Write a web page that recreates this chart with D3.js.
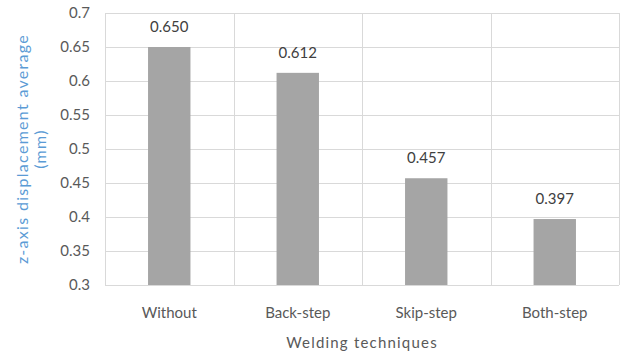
<!DOCTYPE html>
<html>
<head>
<meta charset="utf-8">
<script src="https://cdn.jsdelivr.net/npm/d3@7/dist/d3.min.js"></script>
<style>
  html, body { margin: 0; padding: 0; background: #fff; }
  svg { display: block; font-family: "Lato", "Open Sans", sans-serif; }
</style>
</head>
<body>
<svg id="chart" width="622" height="358"></svg>
<script>
const categories = ["Without", "Back-step", "Skip-step", "Both-step"];
const values = [0.650, 0.612, 0.457, 0.397];
const yTicks = [0.3, 0.35, 0.4, 0.45, 0.5, 0.55, 0.6, 0.65, 0.7];
const yTickLabels = ["0.3", "0.35", "0.4", "0.45", "0.5", "0.55", "0.6", "0.65", "0.7"];
const xTitle = "Welding techniques";
const yTitle = ["z-axis displacement average", "(mm)"];

const svg = d3.select("#chart");
const plot = { left: 105, right: 619, top: 13, bottom: 285 };

const x = d3.scaleBand().domain(categories).range([plot.left, plot.right]).padding(0);
const y = d3.scaleLinear().domain([0.3, 0.7]).range([plot.bottom, plot.top]);

const gridColor = "#d9d9d9";

// horizontal gridlines
svg.append("g").selectAll("line").data(yTicks).join("line")
  .attr("x1", plot.left).attr("x2", plot.right)
  .attr("y1", d => Math.round(y(d)) + 0.5).attr("y2", d => Math.round(y(d)) + 0.5)
  .attr("stroke", gridColor).attr("stroke-width", 1);

// vertical category dividers
const dividers = categories.map(c => x(c)).concat([plot.right]);
svg.append("g").selectAll("line").data(dividers).join("line")
  .attr("x1", d => Math.round(d) + 0.5).attr("x2", d => Math.round(d) + 0.5)
  .attr("y1", plot.top).attr("y2", plot.bottom)
  .attr("stroke", gridColor).attr("stroke-width", 1);

// bars
const barW = x.bandwidth() * 0.33;
svg.append("g").selectAll("rect").data(values).join("rect")
  .attr("x", (d, i) => x(categories[i]) + (x.bandwidth() - barW) / 2)
  .attr("y", d => y(d))
  .attr("width", barW)
  .attr("height", d => y(0.3) - y(d))
  .attr("fill", "#a5a5a5");

// value labels
svg.append("g").selectAll("text").data(values).join("text")
  .attr("x", (d, i) => x(categories[i]) + x.bandwidth() / 2)
  .attr("y", d => y(d) - 15)
  .attr("text-anchor", "middle")
  .attr("font-size", 15)
  .attr("fill", "#404040")
  .text(d => d3.format(".3f")(d));

// y tick labels
svg.append("g").selectAll("text").data(yTicks).join("text")
  .attr("x", 90)
  .attr("y", d => y(d))
  .attr("dy", "0.35em")
  .attr("text-anchor", "end")
  .attr("font-size", 15)
  .attr("fill", "#595959")
  .text((d, i) => yTickLabels[i]);

// x category labels
svg.append("g").selectAll("text").data(categories).join("text")
  .attr("x", d => x(d) + x.bandwidth() / 2)
  .attr("y", 318)
  .attr("text-anchor", "middle")
  .attr("font-size", 15)
  .attr("fill", "#595959")
  .text(d => d);

// x axis title
svg.append("text")
  .attr("x", (plot.left + plot.right) / 2)
  .attr("y", 348)
  .attr("text-anchor", "middle")
  .attr("font-size", 15)
  .attr("fill", "#595959")
  .attr("letter-spacing", 1.2)
  .text(xTitle);

// y axis title (two lines, rotated)
const yt = svg.append("text")
  .attr("transform", `translate(28, ${(plot.top + plot.bottom) / 2}) rotate(-90)`)
  .attr("text-anchor", "middle")
  .attr("font-size", 16)
  .attr("fill", "#5b9bd5")
  .attr("letter-spacing", 1.3);
yt.append("tspan").attr("x", 0).attr("dy", 0).text(yTitle[0]);
yt.append("tspan").attr("x", 0).attr("dy", 18).text(yTitle[1]);
</script>
</body>
</html>
